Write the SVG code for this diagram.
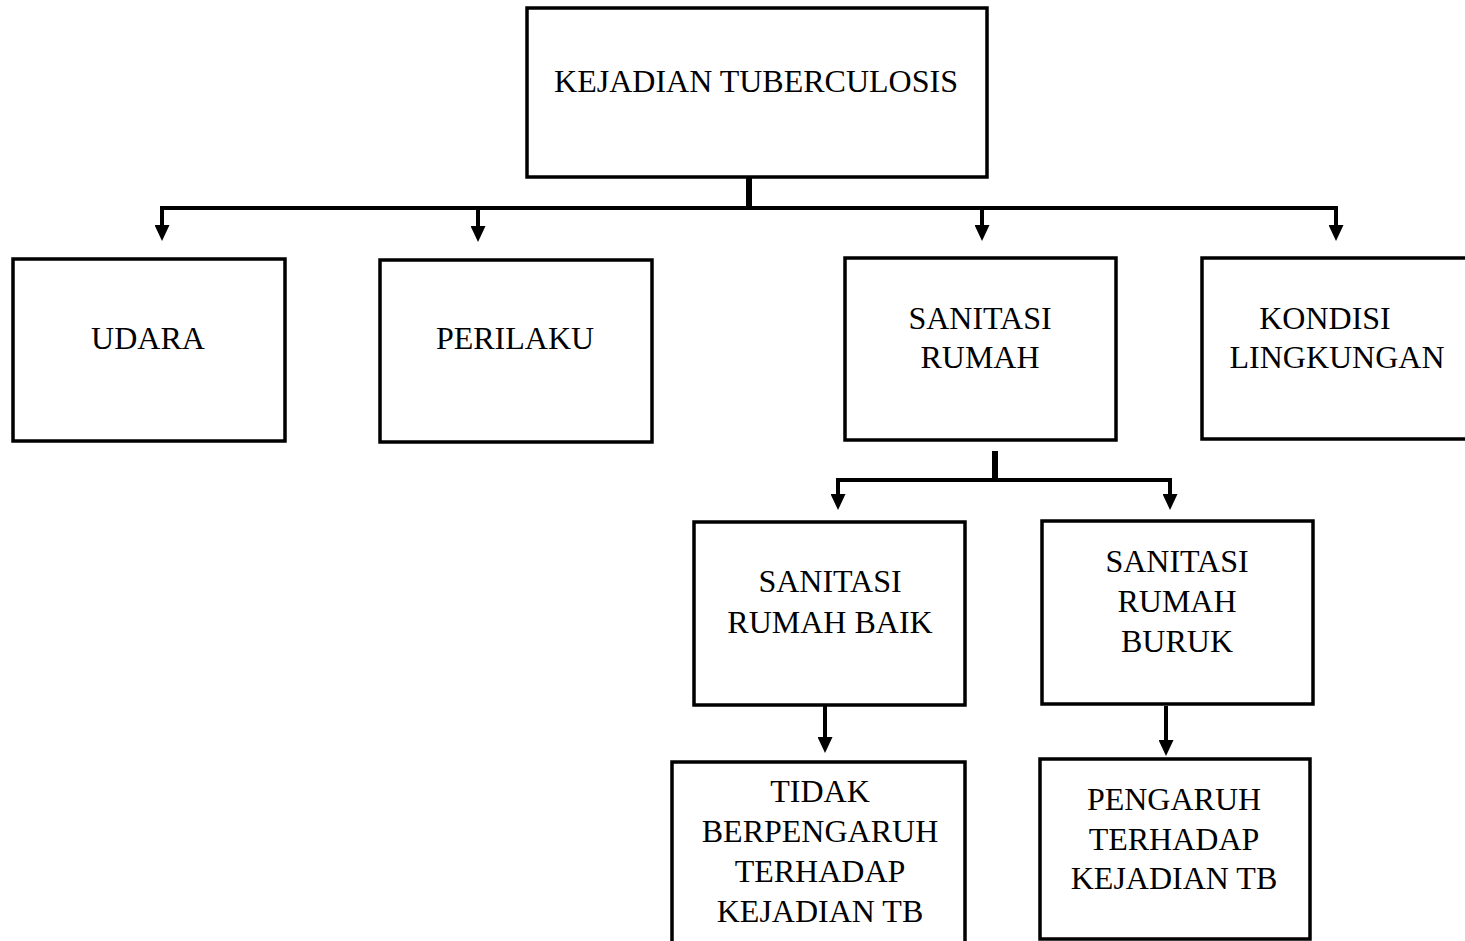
<svg xmlns="http://www.w3.org/2000/svg" width="1465" height="941" viewBox="0 0 1465 941">
<style>
.box{fill:#fff;stroke:#000;stroke-width:3.5}
.t{font-family:"Liberation Serif","Times New Roman",serif;font-size:32px;fill:#000;text-anchor:middle}
.c{fill:none;stroke:#000;stroke-width:4}
.s{fill:none;stroke:#000;stroke-width:6}
.a{fill:none;stroke:#000;stroke-width:4;marker-end:url(#ah)}
</style>
<defs>
<marker id="ah" markerUnits="userSpaceOnUse" viewBox="0 0 16 15" markerWidth="16" markerHeight="15" refX="8" refY="7.5" orient="auto">
<path d="M0,0 L16,7.5 L0,15 Z" fill="#000"/>
</marker>
</defs>
<rect width="1465" height="941" fill="#fff"/>
<g id="connectors">
<line class="s" x1="749" y1="177" x2="749" y2="210"/>
<polyline class="c" points="162,225 162,208 1336,208 1336,225" style="stroke-linejoin:miter"/>
<line class="a" x1="162" y1="206" x2="162" y2="233"/>
<line class="a" x1="478" y1="206" x2="478" y2="234"/>
<line class="a" x1="982" y1="206" x2="982" y2="233"/>
<line class="a" x1="1336" y1="206" x2="1336" y2="233"/>
<line class="s" x1="995" y1="451" x2="995" y2="482"/>
<polyline class="c" points="838,495 838,480 1170,480 1170,495"/>
<line class="a" x1="838" y1="478" x2="838" y2="502"/>
<line class="a" x1="1170" y1="478" x2="1170" y2="502"/>
<line class="a" x1="825" y1="705" x2="825" y2="745"/>
<line class="a" x1="1166" y1="706" x2="1166" y2="748"/>
</g>
<g id="kejadian-tuberculosis">
<rect class="box" x="527" y="8" width="460" height="169"/>
<text class="t" x="756" y="92">KEJADIAN TUBERCULOSIS</text>
</g>
<g id="udara">
<rect class="box" x="13" y="259" width="272" height="182"/>
<text class="t" x="148" y="349">UDARA</text>
</g>
<g id="perilaku">
<rect class="box" x="380" y="260" width="272" height="182"/>
<text class="t" x="515" y="349">PERILAKU</text>
</g>
<g id="sanitasi-rumah">
<rect class="box" x="845" y="258" width="271" height="182"/>
<text class="t" x="980" y="329">SANITASI</text>
<text class="t" x="980" y="368">RUMAH</text>
</g>
<g id="kondisi-lingkungan">
<rect class="box" x="1202" y="258" width="275" height="181"/>
<text class="t" x="1325" y="329">KONDISI</text>
<text class="t" x="1337" y="368">LINGKUNGAN</text>
</g>
<g id="sanitasi-rumah-baik">
<rect class="box" x="694" y="522" width="271" height="183"/>
<text class="t" x="830" y="592">SANITASI</text>
<text class="t" x="830" y="633">RUMAH BAIK</text>
</g>
<g id="sanitasi-rumah-buruk">
<rect class="box" x="1042" y="521" width="271" height="183"/>
<text class="t" x="1177" y="572">SANITASI</text>
<text class="t" x="1177" y="612">RUMAH</text>
<text class="t" x="1177" y="652">BURUK</text>
</g>
<g id="tidak-berpengaruh">
<rect class="box" x="672" y="762" width="293" height="200"/>
<text class="t" x="820" y="802">TIDAK</text>
<text class="t" x="820" y="842">BERPENGARUH</text>
<text class="t" x="820" y="882">TERHADAP</text>
<text class="t" x="820" y="922">KEJADIAN TB</text>
</g>
<g id="pengaruh">
<rect class="box" x="1040" y="759" width="270" height="180"/>
<text class="t" x="1174" y="810">PENGARUH</text>
<text class="t" x="1174" y="850">TERHADAP</text>
<text class="t" x="1174" y="889">KEJADIAN TB</text>
</g>
</svg>
